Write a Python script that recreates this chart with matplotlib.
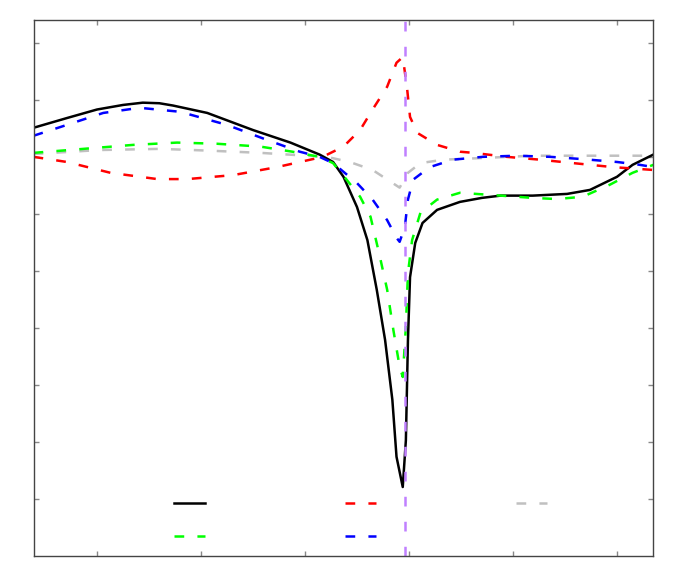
import numpy as np
import matplotlib
matplotlib.use("Agg")
import matplotlib.pyplot as plt

plt.rcParams["lines.scale_dashes"] = False

# curves (x in tick units, y in tick units)
x_black = [0.39, 0.71, 1.00, 1.25, 1.44, 1.60, 1.73, 2.06, 2.50, 2.86, 3.14, 3.27, 3.37, 3.50,
           3.60, 3.69, 3.77, 3.84, 3.88, 3.94, 3.97, 3.99, 4.01, 4.06, 4.13, 4.27, 4.49, 4.70,
           4.88, 5.19, 5.52, 5.74, 6.00, 6.15, 6.35]
y_black = [0.51, 0.68, 0.83, 0.91, 0.95, 0.94, 0.90, 0.77, 0.47, 0.25, 0.04, -0.09, -0.35,
           -0.88, -1.46, -2.33, -3.21, -4.26, -5.26, -5.79, -4.97, -3.21, -2.11, -1.51, -1.16,
           -0.93, -0.79, -0.72, -0.68, -0.68, -0.65, -0.58, -0.35, -0.14, 0.04]

x_green = [0.39, 0.87, 1.35, 1.77, 2.15, 2.57, 2.88, 3.14, 3.27, 3.40, 3.53, 3.63, 3.72, 3.79,
           3.85, 3.91, 3.94, 3.97, 3.99, 4.03, 4.11, 4.27, 4.49, 4.88, 5.19, 5.42, 5.67, 5.93,
           6.15, 6.35]
y_green = [0.07, 0.14, 0.21, 0.25, 0.23, 0.18, 0.09, 0.00, -0.11, -0.40, -0.70, -1.05, -1.75,
           -2.33, -3.04, -3.68, -3.86, -2.98, -2.04, -1.46, -0.98, -0.75, -0.63, -0.68, -0.72,
           -0.74, -0.70, -0.49, -0.28, -0.14]

x_red = [0.39, 0.71, 1.13, 1.58, 1.87, 2.31, 2.73, 3.05, 3.17, 3.37, 3.53, 3.65, 3.79, 3.88,
         3.94, 3.98, 4.01, 4.08, 4.27, 4.49, 4.62, 4.94, 5.26, 5.58, 5.96, 6.35]
y_red = [0.00, -0.09, -0.28, -0.39, -0.39, -0.32, -0.18, -0.05, 0.00, 0.18, 0.47, 0.83, 1.23,
         1.65, 1.75, 1.23, 0.70, 0.42, 0.21, 0.09, 0.07, 0.00, -0.05, -0.11, -0.18, -0.23]

x_blue = [0.39, 0.71, 1.06, 1.41, 1.80, 2.25, 2.63, 2.95, 3.14, 3.27, 3.50, 3.65, 3.79, 3.88,
          3.91, 3.96, 3.99, 4.04, 4.20, 4.42, 4.71, 5.04, 5.36, 5.67, 6.00, 6.22, 6.35]
y_blue = [0.37, 0.56, 0.77, 0.86, 0.79, 0.56, 0.30, 0.09, 0.00, -0.11, -0.46, -0.75, -1.11,
          -1.42, -1.49, -1.23, -0.75, -0.40, -0.18, -0.05, 0.00, 0.02, 0.00, -0.04, -0.09,
          -0.14, -0.18]

x_gray = [0.39, 1.03, 1.61, 2.06, 2.57, 3.02, 3.21, 3.43, 3.65, 3.91, 3.99, 4.11, 4.33, 4.71,
          5.19, 5.67, 6.35]
y_gray = [0.05, 0.12, 0.14, 0.11, 0.07, 0.02, 0.00, -0.09, -0.23, -0.54, -0.28, -0.11, -0.05,
          -0.02, 0.02, 0.02, 0.02]

x_marker = 3.96
x_ticks = [1, 2, 3, 4, 5, 6]
y_ticks = [-6, -5, -4, -3, -2, -1, 0, 1, 2]

fig = plt.figure(figsize=(6.92, 5.81), dpi=100)
ax = fig.add_axes([0.0491, 0.0430, 0.8945, 0.9226])

dash = (7, 9.5)
l_black, = ax.plot(x_black, y_black, color="black", lw=1.8)
l_red, = ax.plot(x_red, y_red, color="red", lw=1.8, dashes=dash)
l_gray, = ax.plot(x_gray, y_gray, color="#c0c0c0", lw=1.8, dashes=dash)
l_green, = ax.plot(x_green, y_green, color="#00ff00", lw=1.8, dashes=dash)
l_blue, = ax.plot(x_blue, y_blue, color="blue", lw=1.8, dashes=dash)
ax.axvline(x_marker, color="#c080ff", lw=1.8, dashes=(7, 11))

ax.set_xlim(0.394, 6.346)
ax.set_ylim(-7, 2.4)
ax.set_xticks(x_ticks)
ax.set_yticks(y_ticks)
ax.tick_params(direction="in", length=3.5, width=1, color="#888888",
               top=True, right=True, labelbottom=False, labelleft=False)
for s in ax.spines.values():
    s.set_color("#444444")
    s.set_linewidth(1)

# legend: labels are blank in the reference
ax.legend([l_black, l_green, l_red, l_blue, l_gray], [" "] * 5, ncol=3,
          loc="center", bbox_to_anchor=(0.540, 0.066), frameon=False,
          fontsize=10, handlelength=2.23, handletextpad=0.8, columnspacing=8.96,
          labelspacing=1.37, borderpad=0, borderaxespad=0)

fig.savefig("out.png", dpi=100)
